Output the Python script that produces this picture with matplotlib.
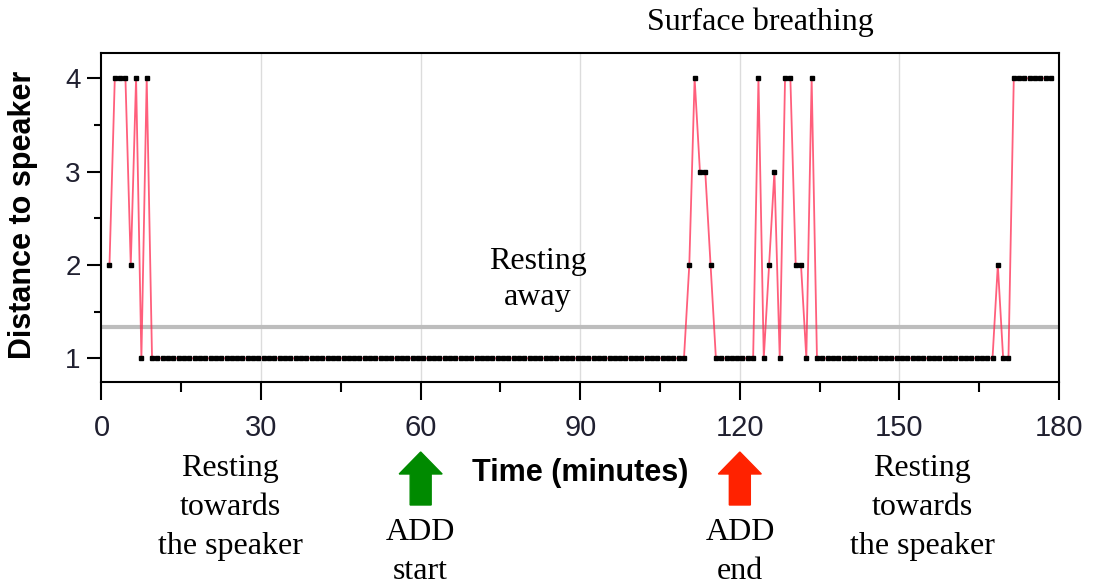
import matplotlib.pyplot as plt
import matplotlib.transforms as mtransforms
from matplotlib.patches import FancyArrow
import numpy as np

# distance class (1 = close .. 4 = far) sampled once per minute
minutes = np.arange(1, 179) + 0.5
distance = ([2, 4, 4, 4, 2, 4, 1, 4]
            + [1] * 101
            + [2, 4, 3, 3, 2]
            + [1] * 8
            + [4, 1, 2, 3, 1, 4, 4, 2, 2, 1, 4]
            + [1] * 34
            + [2, 1, 1]
            + [4] * 8)

x_ticks = [0, 30, 60, 90, 120, 150, 180]
y_ticks = [1, 2, 3, 4]
threshold = 1.34
add_start, add_end = 60, 120

W, H = 1099, 583
serif = 'Liberation Serif'
sans = 'Liberation Sans'

fig = plt.figure(figsize=(W / 100, H / 100), dpi=100)
ax = fig.add_axes([101.5 / W, 1 - 381.7 / H, (1059 - 101.5) / W, (381.7 - 53) / H])

ax.set_xlim(0, 180)
ax.set_ylim(0.749, 4.271)
ax.set_xticks(x_ticks)
ax.set_xticks(np.arange(15, 180, 30), minor=True)
ax.set_yticks(y_ticks)
ax.set_yticks([1.5, 2.5, 3.5], minor=True)
for xt in x_ticks[1:-1]:
    ax.axvline(xt, color='#dcdcdc', lw=1, zorder=0)
ax.axhline(threshold, color='#bdbdbd', lw=3, zorder=1)

ax.plot(minutes, distance, color='#ff2a50', lw=1.3, alpha=0.75, zorder=2)
ax.plot(minutes, distance, ls='none', marker='s', ms=2.6, color='black', zorder=3)

for s in ax.spines.values():
    s.set_linewidth(1.5)
ax.tick_params(axis='x', which='major', length=13, width=1.5, pad=10,
               labelsize=21, labelcolor='#202030')
ax.tick_params(axis='x', which='minor', length=7, width=1.5)
ax.tick_params(axis='y', which='major', length=10, width=1.5, pad=5,
               labelsize=20, labelcolor='#202030')
ax.tick_params(axis='y', which='minor', length=5, width=1.5)
for lab in ax.get_xticklabels() + ax.get_yticklabels():
    lab.set_family(sans)


def fx(px):
    return px / W


def fy(py):
    return 1 - py / H


fig.text(fx(23), fy(215), 'Distance to speaker', rotation=90, ha='center', va='center',
         fontsize=22, fontweight='bold', family=sans)
fig.text(fx(580), fy(481), 'Time (minutes)', ha='center', va='baseline',
         fontsize=22, fontweight='bold', family=sans)

# multi-line texts: baseline given for the last line
fig.text(fx(760), fy(30), 'Surface breathing', ha='center', va='baseline',
         fontsize=23, family=serif)
fig.text(fx(538), fy(305), 'Resting\naway', ha='center', va='baseline',
         fontsize=23, family=serif, linespacing=1.3)
fig.text(fx(230), fy(554), 'Resting\ntowards\nthe speaker', ha='center', va='baseline',
         fontsize=23, family=serif, linespacing=1.45)
fig.text(fx(922), fy(554), 'Resting\ntowards\nthe speaker', ha='center', va='baseline',
         fontsize=23, family=serif, linespacing=1.45)
fig.text(fx(420), fy(579), 'ADD\nstart', ha='center', va='baseline',
         fontsize=23, family=serif, linespacing=1.45)
fig.text(fx(740), fy(579), 'ADD\nend', ha='center', va='baseline',
         fontsize=23, family=serif, linespacing=1.45)

# arrows below the axis: x in data units, y in figure fraction
trans = mtransforms.blended_transform_factory(ax.transData, fig.transFigure)
px_per_min = (1059 - 101.5) / 180
for xpos, col in [(add_start, '#008a00'), (add_end, '#ff2200')]:
    arr = FancyArrow(xpos, fy(505), 0, (505 - 452) / H,
                     width=21 / px_per_min, head_width=43 / px_per_min,
                     head_length=22 / H, length_includes_head=True,
                     color=col, transform=trans, clip_on=False)
    fig.add_artist(arr)

fig.savefig('out.png', dpi=100)
